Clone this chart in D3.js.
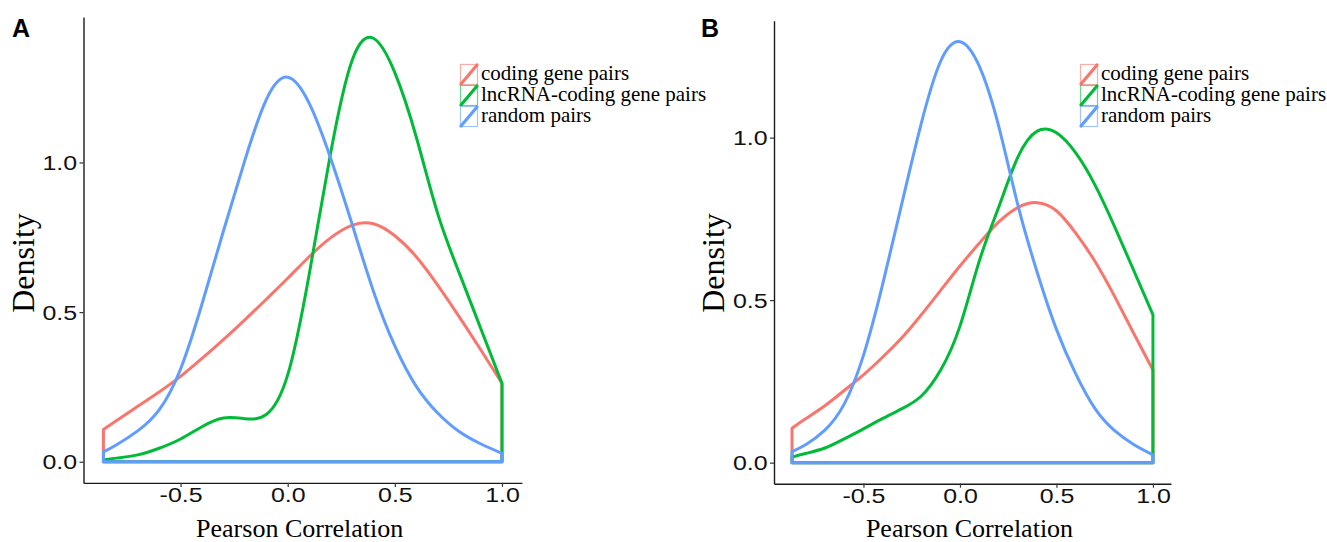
<!DOCTYPE html>
<html>
<head>
<meta charset="utf-8">
<script src="https://cdn.jsdelivr.net/npm/d3@7"></script>
<style>
  body { margin: 0; background: #fff; }
  svg { display: block; }
</style>
</head>
<body>
<div id="chart"></div>
<script>
// values (density at each x)
var xA = [-0.86, -0.8, -0.7, -0.6, -0.5, -0.4, -0.3, -0.2, -0.1, 0.0, 0.1, 0.2, 0.3, 0.4, 0.5, 0.6, 0.7, 0.8, 0.9, 1.0];
var codingA = [0.108, 0.137, 0.185, 0.233, 0.285, 0.345, 0.408, 0.474, 0.543, 0.613, 0.685, 0.748, 0.79, 0.795, 0.755, 0.685, 0.59, 0.485, 0.375, 0.262];
var lncA = [0.006, 0.012, 0.023, 0.045, 0.076, 0.117, 0.146, 0.144, 0.158, 0.29, 0.625, 1.03, 1.34, 1.415, 1.30, 1.085, 0.829, 0.632, 0.447, 0.262];
var randomA = [0.033, 0.056, 0.103, 0.173, 0.31, 0.527, 0.771, 1.007, 1.21, 1.285, 1.198, 1.015, 0.795, 0.57, 0.387, 0.252, 0.163, 0.101, 0.06, 0.028];

var xB = [-0.87, -0.8, -0.7, -0.6, -0.5, -0.4, -0.3, -0.2, -0.1, 0.0, 0.1, 0.2, 0.3, 0.4, 0.5, 0.6, 0.7, 0.8, 0.9, 1.0];
var codingB = [0.106, 0.135, 0.175, 0.222, 0.27, 0.325, 0.385, 0.455, 0.53, 0.605, 0.675, 0.74, 0.785, 0.80, 0.775, 0.706, 0.619, 0.513, 0.398, 0.285];
var lncB = [0.017, 0.028, 0.045, 0.073, 0.104, 0.136, 0.166, 0.205, 0.285, 0.42, 0.62, 0.785, 0.94, 1.02, 1.015, 0.953, 0.854, 0.728, 0.592, 0.455];
var randomB = [0.034, 0.055, 0.10, 0.18, 0.33, 0.55, 0.80, 1.045, 1.235, 1.295, 1.22, 1.037, 0.793, 0.586, 0.41, 0.273, 0.166, 0.099, 0.056, 0.024];

var legendLabels = ["coding gene pairs", "lncRNA-coding gene pairs", "random pairs"];
var colors = ["#F8766D", "#00BA38", "#619CFF"];
var xTicks = [-0.5, 0.0, 0.5, 1.0];
var yTicks = [0.0, 0.5, 1.0];

var width = 1327, height = 542;

var svg = d3.select("#chart").append("svg")
    .attr("width", width)
    .attr("height", height)
    .style("background", "#fff");

function drawPanel(p) {
    // ggplot-like 5% expansion around the data
    let xmin = d3.min(p.xs), xmax = d3.max(p.xs);
    let ymax = d3.max(p.series.map(s => d3.max(s)));
    let xpad = (xmax - xmin) * 0.05, ypad = ymax * 0.05;

    let x = d3.scaleLinear().domain([xmin - xpad, xmax + xpad]).range([p.left, p.right]);
    let y = d3.scaleLinear().domain([-ypad, ymax + ypad]).range([p.bottom, p.top]);

    let g = svg.append("g");

    let line = d3.line()
        .x(d => x(d[0]))
        .y(d => y(d[1]))
        .curve(d3.curveNatural);

    p.series.forEach(function (vals, i) {
        let pts = p.xs.map((v, j) => [v, vals[j]]);
        let d = line(pts) + "L" + x(xmax) + "," + y(0) + "L" + x(xmin) + "," + y(0) + "Z";
        g.append("path")
            .attr("d", d)
            .attr("fill", "none")
            .attr("stroke", colors[i])
            .attr("stroke-width", 3)
            .attr("stroke-linejoin", "round");
    });

    // axes
    let xAxis = g.append("g")
        .attr("transform", "translate(0," + p.bottom + ")")
        .call(d3.axisBottom(x).tickValues(xTicks).tickSize(4).tickSizeOuter(0).tickFormat(d => d.toFixed(1)));
    let yAxis = g.append("g")
        .attr("transform", "translate(" + p.left + ",0)")
        .call(d3.axisLeft(y).tickValues(yTicks).tickSize(4).tickSizeOuter(0).tickFormat(d => d.toFixed(1)));

    [xAxis, yAxis].forEach(function (a) {
        a.select(".domain").attr("stroke", "#1a1a1a").attr("stroke-width", 1.4);
        a.selectAll(".tick line").attr("stroke", "#333").attr("stroke-width", 1.2);
        a.selectAll(".tick text")
            .attr("fill", "#111")
            .style("font-family", "'Liberation Sans', Arial, sans-serif")
            .style("font-size", "19.5px");
    });
    xAxis.selectAll(".tick text")
        .attr("y", 19.5).attr("dy", 0)
        .attr("transform", "scale(1.28,1)");
    yAxis.selectAll(".tick text")
        .attr("x", -5).attr("dy", "0.36em")
        .attr("transform", "scale(1.28,1)");

    // axis titles
    g.append("text")
        .attr("x", (p.left + p.right) / 2 - 3)
        .attr("y", 537)
        .attr("text-anchor", "middle")
        .style("font-family", "'Liberation Serif', 'Times New Roman', serif")
        .style("font-size", "26px")
        .text("Pearson Correlation");

    g.append("text")
        .attr("transform", "translate(" + (p.left - 50) + ",263) rotate(-90)")
        .attr("text-anchor", "middle")
        .style("font-family", "'Liberation Serif', 'Times New Roman', serif")
        .style("font-size", "32px")
        .text("Density");

    // panel letter
    g.append("text")
        .attr("x", p.labelX)
        .attr("y", 36.5)
        .style("font-family", "'Liberation Sans', Arial, sans-serif")
        .style("font-weight", "bold")
        .style("font-size", "25px")
        .text(p.label);

    // legend
    let leg = g.append("g").attr("transform", "translate(" + p.legendX + ",64)");
    let keyW = 18, keyH = 21;
    legendLabels.forEach(function (lab, i) {
        let row = leg.append("g").attr("transform", "translate(0," + (i * keyH) + ")");
        row.append("rect")
            .attr("x", 0.5).attr("y", 0.5)
            .attr("width", keyW - 1).attr("height", keyH - 1)
            .attr("fill", "#fff")
            .attr("stroke", colors[i])
            .attr("stroke-opacity", 0.6)
            .attr("stroke-width", 1.2);
        row.append("line")
            .attr("x1", 1).attr("y1", keyH - 1)
            .attr("x2", keyW - 1).attr("y2", 1)
            .attr("stroke", colors[i])
            .attr("stroke-width", 3.2)
            .attr("stroke-linecap", "round");
        row.append("text")
            .attr("x", keyW + 3)
            .attr("y", 16)
            .style("font-family", "'Liberation Serif', 'Times New Roman', serif")
            .style("font-size", "21px")
            .text(lab);
    });
}

drawPanel({
    xs: xA, series: [codingA, lncA, randomA],
    left: 83.5, right: 521.9, top: 17.1, bottom: 482.9,
    label: "A", labelX: 12, legendX: 460
});

drawPanel({
    xs: xB, series: [codingB, lncB, randomB],
    left: 774, right: 1171, top: 20.7, bottom: 483.7,
    label: "B", labelX: 701, legendX: 1080
});
</script>
</body>
</html>
